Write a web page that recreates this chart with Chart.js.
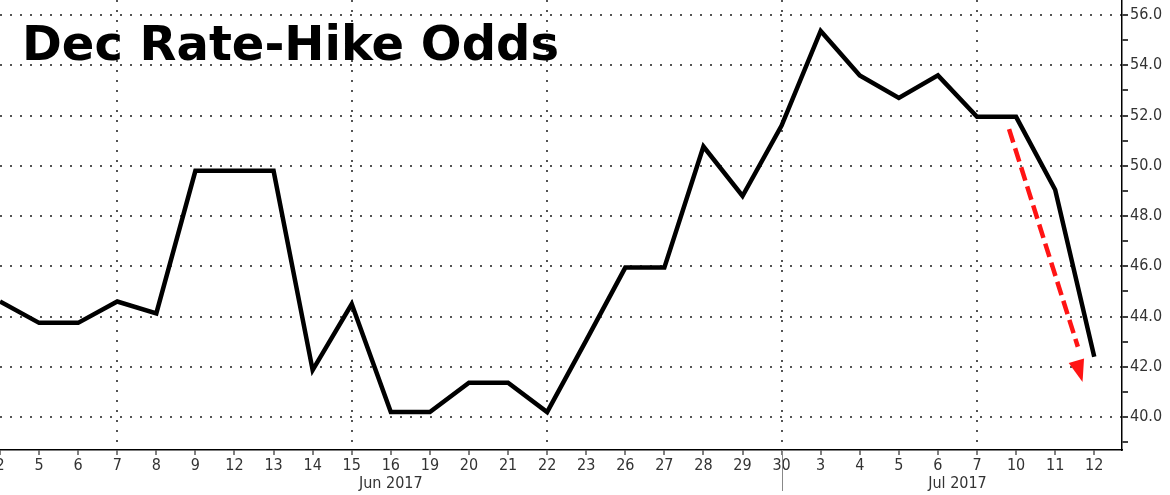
<!DOCTYPE html>
<html>
<head>
<meta charset="utf-8">
<script src="https://cdn.jsdelivr.net/npm/chart.js@4/dist/chart.umd.min.js"></script>
<style>
  html, body { margin: 0; padding: 0; background: #fff; }
  #wrap { position: relative; width: 1170px; height: 495px; }
  #title {
    position: absolute; left: 22px; top: 19px;
    font: bold 48px "DejaVu Sans", sans-serif; line-height: 1;
    color: #000; white-space: nowrap; z-index: 2;
  }
</style>
</head>
<body>
<div id="wrap">
  <canvas id="oddsChart" width="1170" height="495"></canvas>
  <div id="title">Dec Rate-Hike Odds</div>
</div>
<script>
// Handelstage (Jun/Jul 2017)
const dayLabels = ['2', '5', '6', '7', '8', '9', '12', '13', '14', '15', '16', '19', '20', '21', '22',
                   '23', '26', '27', '28', '29', '30', '3', '4', '5', '6', '7', '10', '11', '12'];
// Wahrscheinlichkeit Zinserhöhung im Dezember (%)
const hikeOdds = [44.6, 43.75, 43.75, 44.6, 44.13, 49.8, 49.8, 49.8, 41.87, 44.5, 40.2, 40.2, 41.37, 41.37, 40.2,
                  43.05, 45.95, 45.95, 50.77, 48.8, 51.6, 55.37, 53.6, 52.7, 53.6, 51.95, 51.95, 49.05, 42.4];

// Achsen
const weekGridIdx = [3, 9, 14, 20, 25];
const monthLabels = ['Jun 2017', 'Jul 2017'];
const monthCenters = [10, 24.5];
const monthBreak = 20;
const yTickValues = [39, 40, 41, 42, 43, 44, 45, 46, 47, 48, 49, 50, 51, 52, 53, 54, 55, 56];

// roter Pfeil (Datenkoordinaten)
const arrowStart = { x: 25.82, y: 51.46 };
const arrowEnd = { x: 27.7, y: 41.4 };

const axisFont = { family: 'DejaVu Sans Condensed', size: 16 };
const arrowRed = '#ff1414';

// Pfeilspitze + Monatstrenner
const extrasPlugin = {
    id: 'extras',
    afterDatasetsDraw(chart) {
        const { ctx, scales: { x, y } } = chart;
        const x0 = x.getPixelForValue(arrowStart.x), y0 = y.getPixelForValue(arrowStart.y);
        const x1 = x.getPixelForValue(arrowEnd.x), y1 = y.getPixelForValue(arrowEnd.y);
        const ang = Math.atan2(y1 - y0, x1 - x0);
        const len = 22, half = 8;
        const bx = x1 - len * Math.cos(ang), by = y1 - len * Math.sin(ang);
        ctx.save();
        ctx.fillStyle = arrowRed;
        ctx.beginPath();
        ctx.moveTo(x1, y1);
        ctx.lineTo(bx + half * Math.sin(ang), by - half * Math.cos(ang));
        ctx.lineTo(bx - half * Math.sin(ang), by + half * Math.cos(ang));
        ctx.closePath();
        ctx.fill();
        ctx.restore();
    },
    afterDraw(chart) {
        const { ctx, scales: { x }, chartArea } = chart;
        const px = Math.round(x.getPixelForValue(monthBreak)) + 0.5;
        ctx.save();
        ctx.strokeStyle = '#888';
        ctx.lineWidth = 1;
        ctx.beginPath();
        ctx.moveTo(px, chartArea.bottom);
        ctx.lineTo(px, chartArea.bottom + 41);
        ctx.stroke();
        ctx.restore();
    }
};

new Chart(document.getElementById('oddsChart'), {
    type: 'line',
    data: {
        datasets: [{
            label: 'Dec Rate-Hike Odds',
            data: hikeOdds.map((v, i) => ({ x: i, y: v })),
            borderColor: '#000',
            borderWidth: 4.5,
            borderJoinStyle: 'miter',
            pointRadius: 0,
            tension: 0,
            order: 2
        }, {
            label: 'arrow',
            data: [arrowStart, { x: arrowEnd.x - 0.12, y: arrowEnd.y + 1.4 }],
            borderColor: arrowRed,
            borderWidth: 4.5,
            borderDash: [14, 6],
            borderCapStyle: 'butt',
            pointRadius: 0,
            tension: 0,
            order: 1
        }]
    },
    options: {
        responsive: false,
        animation: false,
        layout: { padding: 0 },
        plugins: {
            legend: { display: false },
            tooltip: { enabled: false }
        },
        scales: {
            x: {
                type: 'linear',
                position: 'bottom',
                min: 0,
                max: 28.71,
                afterBuildTicks: scale => { scale.ticks = dayLabels.map((_, i) => ({ value: i })); },
                afterFit: scale => { scale.height = 24; scale.paddingLeft = 0; scale.paddingRight = 0; },
                ticks: {
                    autoSkip: false,
                    maxRotation: 0,
                    padding: 1,
                    color: '#333',
                    font: axisFont,
                    callback: value => dayLabels[value]
                },
                grid: {
                    color: ctx => weekGridIdx.includes(ctx.tick && ctx.tick.value) ? '#555' : 'rgba(0,0,0,0)',
                    lineWidth: 2,
                    tickColor: '#000',
                    tickWidth: 1,
                    tickLength: 5,
                    tickBorderDash: []
                },
                border: { display: true, color: '#000', width: 1.5, dash: [2, 8] }
            },
            month: {
                type: 'linear',
                position: 'bottom',
                min: 0,
                max: 28.71,
                afterBuildTicks: scale => { scale.ticks = monthCenters.map(v => ({ value: v })); },
                afterFit: scale => { scale.height = 21; scale.paddingLeft = 0; scale.paddingRight = 0; },
                ticks: {
                    autoSkip: false,
                    maxRotation: 0,
                    padding: 0,
                    color: '#333',
                    font: axisFont,
                    callback: (value, i) => monthLabels[i]
                },
                grid: { display: false, drawTicks: false, tickLength: 0 },
                border: { display: false }
            },
            y: {
                type: 'linear',
                position: 'right',
                min: 38.69,
                max: 56.6,
                afterBuildTicks: scale => { scale.ticks = yTickValues.map(v => ({ value: v })); },
                afterFit: scale => { scale.width = 48; scale.paddingTop = 0; scale.paddingBottom = 0; },
                ticks: {
                    padding: 2,
                    color: '#333',
                    font: axisFont,
                    callback: value => value % 2 === 0 ? value.toFixed(1) : ''
                },
                grid: {
                    color: ctx => (ctx.tick && ctx.tick.value % 2 === 0) ? '#555' : 'rgba(0,0,0,0)',
                    lineWidth: 2,
                    tickColor: '#000',
                    tickWidth: 1.5,
                    tickLength: 6,
                    tickBorderDash: []
                },
                border: { display: true, color: '#000', width: 1.5, dash: [2, 8] }
            }
        }
    },
    plugins: [extrasPlugin]
});
</script>
</body>
</html>
